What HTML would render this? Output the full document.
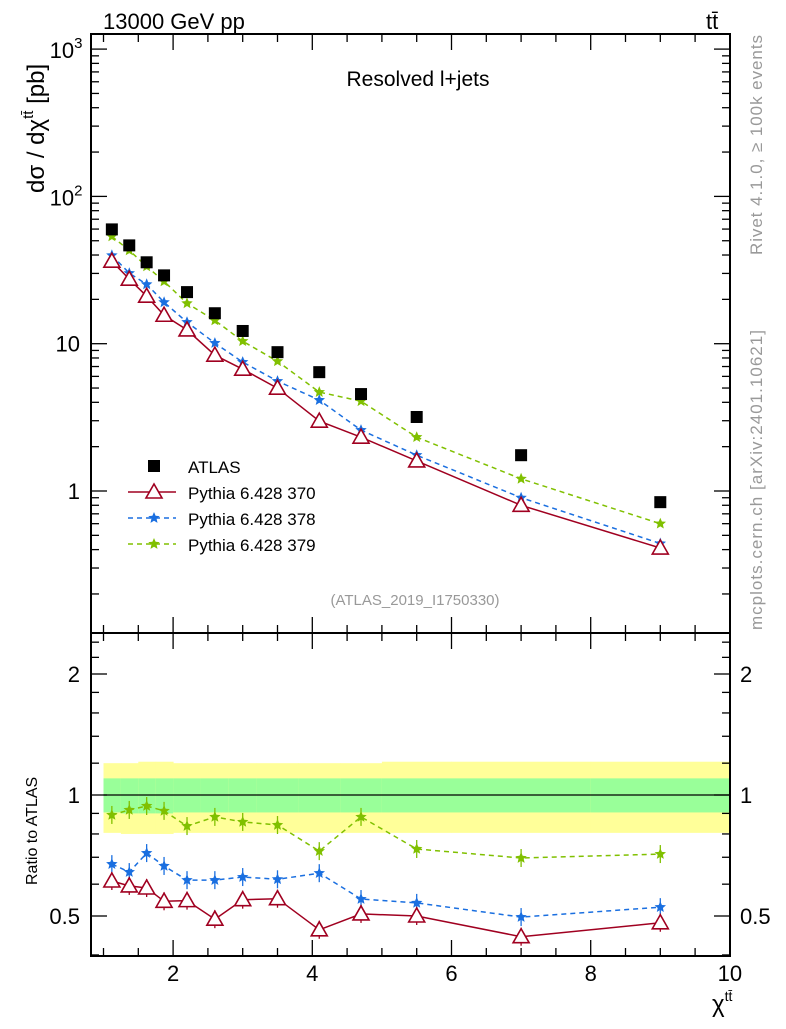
<!DOCTYPE html>
<html><head><meta charset="utf-8"><style>
body{margin:0;background:#fff;}
svg text{font-family:"Liberation Sans",sans-serif;}
</style></head><body>
<svg id="c" width="786" height="1024" xmlns="http://www.w3.org/2000/svg"></svg>
<script>
const xs=[1.12,1.37,1.62,1.87,2.2,2.6,3.0,3.5,4.1,4.7,5.5,7.0,9.0];
const atlas=[59.7,46.5,35.7,29.1,22.4,16.1,12.2,8.76,6.41,4.55,3.18,1.75,0.84];
const p370=[36.3,27.4,21.0,15.6,12.4,8.36,6.71,4.99,2.98,2.32,1.60,0.80,0.41];
const p378=[39.8,30.1,25.3,19.1,14.0,10.1,7.5,5.57,4.14,2.59,1.75,0.90,0.44];
const p379=[53.5,43.0,33.5,26.5,18.8,14.4,10.4,7.6,4.69,4.07,2.32,1.21,0.60];
const r370=[0.611,0.594,0.587,0.544,0.546,0.491,0.549,0.552,0.462,0.506,0.500,0.444,0.481];
const r378=[0.673,0.643,0.717,0.666,0.614,0.614,0.625,0.617,0.639,0.551,0.539,0.497,0.526];
const r379=[0.892,0.918,0.939,0.913,0.837,0.882,0.857,0.842,0.725,0.882,0.734,0.697,0.713];
const binEdges=[1,1.25,1.5,1.75,2,2.4,2.8,3.2,3.8,4.4,5,6,8,10];
const bandOuterUp=[1.20,1.20,1.21,1.21,1.20,1.20,1.20,1.20,1.20,1.20,1.21,1.21,1.21];
const bandOuterLo=[0.805,0.80,0.80,0.80,0.805,0.805,0.805,0.805,0.805,0.805,0.805,0.805,0.805];
const bandInnerUp=[1.10,1.10,1.10,1.10,1.10,1.10,1.10,1.10,1.10,1.10,1.10,1.10,1.10];
const bandInnerLo=[0.905,0.90,0.90,0.90,0.905,0.905,0.905,0.905,0.905,0.905,0.905,0.905,0.905];
const xTicks=[2,4,6,8,10];
const yTicksMain=[1,10,100,1000];
const yTickLabelsMain=["1","10","10²","10³"];
const yTicksRatio=[0.5,1,2];
const yTickLabelsRatio=["0.5","1","2"];

const svg=document.getElementById('c');
const NS="http://www.w3.org/2000/svg";
const L=91,R=730,T=34,MB=633,RB=956;
const X=v=>103.5+(v-1)*69.6;
const Y=v=>491-147.3*Math.log10(v);
const YR=v=>795-121*Math.log2(v);
function mk(tag,attrs,parent){const e=document.createElementNS(NS,tag);for(const k in attrs)e.setAttribute(k,attrs[k]);(parent||svg).appendChild(e);return e;}
function txt(s,attrs){const e=mk('text',attrs);e.textContent=s;return e;}

for(let i=0;i<binEdges.length-1;i++){
 const x0=X(binEdges[i]),x1=X(binEdges[i+1]);
 let b=mk('rect',{x:x0,y:YR(bandOuterUp[i]),width:x1-x0+0.5,height:YR(bandOuterLo[i])-YR(bandOuterUp[i]),fill:'#ffff99'});
 
 
 let g=mk('rect',{x:x0,y:YR(bandInnerUp[i]),width:x1-x0+0.5,height:YR(bandInnerLo[i])-YR(bandInnerUp[i]),fill:'#99ff99'});
 
 
}
mk('line',{x1:X(1),x2:R,y1:YR(1),y2:YR(1),stroke:'#000','stroke-width':1.2});

const f1=mk('rect',{x:L,y:T,width:R-L,height:MB-T,fill:'none',stroke:'#000','stroke-width':2});

const f2=mk('rect',{x:L,y:MB,width:R-L,height:RB-MB,fill:'none',stroke:'#000','stroke-width':2});


for(let v=1;v<=10;v+=0.5){
 const major=Number.isInteger(v/2);
 const len=major?16:8;
 for(const [top,bot] of [[T,MB],[MB,RB]]){
  mk('line',{x1:X(v),x2:X(v),y1:bot,y2:bot-len,stroke:'#000','stroke-width':1.3});
  mk('line',{x1:X(v),x2:X(v),y1:top,y2:top+len,stroke:'#000','stroke-width':1.3});
 }
}
xTicks.forEach(v=>{const t=txt(String(v),{x:X(v),y:981,'font-size':22,'text-anchor':'middle'});
 });

for(let d=-1;d<=3;d++){for(let m=1;m<=9;m++){const v=m*Math.pow(10,d);const y=Y(v);if(y<T||y>MB)continue;
 const len=m===1?16:8;
 mk('line',{x1:L,x2:L+len,y1:y,y2:y,stroke:'#000','stroke-width':1.3});
 mk('line',{x1:R,x2:R-len,y1:y,y2:y,stroke:'#000','stroke-width':1.3});}}
yTicksMain.forEach((v,i)=>{
 let t;
 if(v>=100){t=txt('10',{x:66,y:Y(v)+9,'font-size':22,'text-anchor':'middle'});const s=mk('tspan',{dy:-10,'font-size':15},t);s.textContent=String(Math.log10(v));}
 else t=txt(yTickLabelsMain[i],{x:80,y:Y(v)+8,'font-size':22,'text-anchor':'end'});
 });

for(const v of [0.4,0.5,0.6,0.7,0.8,0.9,1,1.2,1.4,1.6,1.8,2,2.2,2.4]){const y=YR(v);
 const len=[0.5,1,2].includes(v)?16:8;
 mk('line',{x1:L,x2:L+len,y1:y,y2:y,stroke:'#000','stroke-width':1.3});
 mk('line',{x1:R,x2:R-len,y1:y,y2:y,stroke:'#000','stroke-width':1.3});}
yTicksRatio.forEach((v,i)=>{
 let t=txt(yTickLabelsRatio[i],{x:80,y:YR(v)+8,'font-size':22,'text-anchor':'end'});
 
 t=txt(yTickLabelsRatio[i],{x:740,y:YR(v)+8,'font-size':22});
 });

function star(cx,cy,r,col,name){const p=[];for(let k=0;k<10;k++){const a=-Math.PI/2+k*Math.PI/5;const rr=k%2?r*0.45:r;p.push((cx+rr*Math.cos(a)).toFixed(1)+','+(cy+rr*Math.sin(a)).toFixed(1));}
 const e=mk('polygon',{points:p.join(' '),fill:col});}
function tri(cx,cy,col,name){const e=mk('polygon',{points:`${cx},${cy-8} ${cx-8},${cy+6} ${cx+8},${cy+6}`,fill:'#fff',stroke:col,'stroke-width':1.6});}
function series(vals,yf,col,dash,kind,name){
 const pts=xs.map((x,i)=>X(x).toFixed(1)+','+yf(vals[i]).toFixed(1)).join(' ');
 const l=mk('polyline',{points:pts,fill:'none',stroke:col,'stroke-width':1.5,'stroke-dasharray':dash||''});
 
 xs.forEach((x,i)=>{const cx=X(x),cy=yf(vals[i]);
  if(yf===YR){mk('line',{x1:cx,x2:cx,y1:cy-9,y2:cy+9,stroke:col,'stroke-width':1.3});}
  if(kind==='tri')tri(cx,cy,col,name+'-point');else star(cx,cy,6,col,name+'-point');});
}
series(p379,Y,'#80c000','5,4','star','pythia-379');
series(p378,Y,'#1a6fe0','5,4','star','pythia-378');
series(p370,Y,'#a00020','','tri','pythia-370');
atlas.forEach((v,i)=>{const e=mk('rect',{x:X(xs[i])-6,y:Y(v)-6,width:12,height:12,fill:'#000'});
 });
series(r379,YR,'#80c000','5,4','star','ratio-379');
series(r378,YR,'#1a6fe0','5,4','star','ratio-378');
series(r370,YR,'#a00020','','tri','ratio-370');

const lg=[['ATLAS','sq'],['Pythia 6.428 370','tri','#a00020',''],['Pythia 6.428 378','star','#1a6fe0','5,4'],['Pythia 6.428 379','star','#80c000','5,4']];
lg.forEach((e,i)=>{const y=466+26*i;
 if(e[1]==='sq'){mk('rect',{x:148,y:y-6,width:12,height:12,fill:'#000'});}
 else{mk('line',{x1:128,x2:176,y1:y,y2:y,stroke:e[2],'stroke-width':1.5,'stroke-dasharray':e[3]});
  if(e[1]==='tri')tri(154,y,e[2],'legend-marker');else star(154,y,6,e[2],'legend-marker');}
 const t=txt(e[0],{x:188,y:y+7,'font-size':17});});

let t;
t=txt('13000 GeV pp',{x:103,y:29,'font-size':22});
t=txt('tt̄',{x:706,y:29,'font-size':22});
t=txt('Resolved l+jets',{x:418,y:86,'font-size':21,'text-anchor':'middle'});
t=txt('(ATLAS_2019_I1750330)',{x:415,y:605,'font-size':15,fill:'#999','text-anchor':'middle'});
t=txt('dσ / dχ',{x:0,y:0,'font-size':24,transform:'translate(44,193) rotate(-90)'});
const s1=mk('tspan',{dy:-11,'font-size':15},t);s1.textContent='tt̄';const s2=mk('tspan',{dy:11},t);s2.textContent=' [pb]';

t=txt('Ratio to ATLAS',{x:0,y:0,'font-size':16,transform:'translate(37,885) rotate(-90)'});
t=txt('χ',{x:712,y:1012,'font-size':24});const s3=mk('tspan',{dy:-11,'font-size':14},t);s3.textContent='tt̄';

t=txt('Rivet 4.1.0, ≥ 100k events',{x:0,y:0,'font-size':17,fill:'#999',textLength:220,transform:'translate(762,255) rotate(-90)'});
t=txt('mcplots.cern.ch [arXiv:2401.10621]',{x:0,y:0,'font-size':17,fill:'#999',textLength:300,transform:'translate(762,630) rotate(-90)'});
</script>
</body></html>
